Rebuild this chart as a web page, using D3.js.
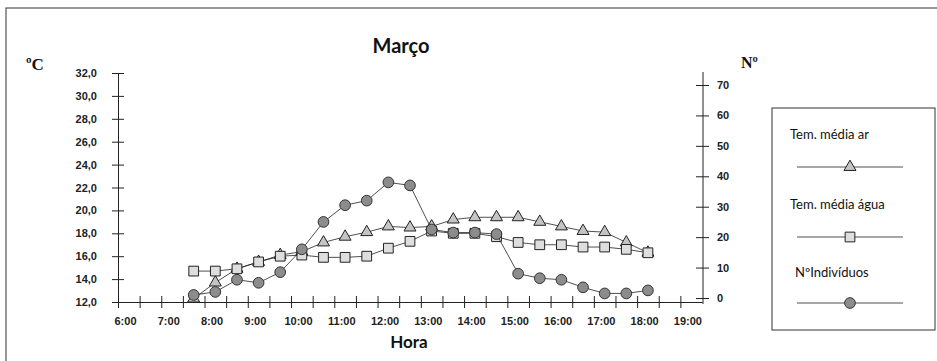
<!DOCTYPE html>
<html>
<head>
<meta charset="utf-8">
<script src="https://cdn.jsdelivr.net/npm/d3@7"></script>
<style>
  body { margin: 0; background: #fff; }
  svg { display: block; }
  .ax text { font-family: "Liberation Sans", Arial, sans-serif; font-size: 11px; font-weight: bold; fill: #222; }
</style>
</head>
<body>
<div id="vis"></div>
<script>
// readings every half hour
const horas = ["7:45", "8:15", "8:45", "9:15", "9:45", "10:15", "10:45", "11:15", "11:45", "12:15", "12:45",
               "13:15", "13:45", "14:15", "14:45", "15:15", "15:45", "16:15", "16:45", "17:15", "17:45", "18:15"];
const tempAr = [12.3, 13.7, 14.9, 15.5, 16.1, 16.4, 17.2, 17.7, 18.1, 18.6, 18.5,
                18.6, 19.2, 19.4, 19.4, 19.4, 19.0, 18.6, 18.2, 18.1, 17.2, 16.3];
const tempAgua = [14.7, 14.7, 14.9, 15.5, 16.0, 16.1, 15.9, 15.9, 16.0, 16.7, 17.3,
                  18.2, 18.0, 18.0, 17.7, 17.2, 17.0, 17.0, 16.8, 16.8, 16.6, 16.3];
const individuos = [1, 2, 6, 5, 8.5, 16, 25, 30.5, 32, 38, 37,
                    22.5, 21.5, 21.5, 21, 8, 6.5, 6, 3.5, 1.5, 1.5, 2.5];
const tempTicks = [12, 14, 16, 18, 20, 22, 24, 26, 28, 30, 32];
const numTicks = [0, 10, 20, 30, 40, 50, 60, 70];
const legendLabels = ["Tem. média ar", "Tem. média água", "NºIndivíduos"];

const toHour = s => { const p = s.split(":"); return +p[0] + (+p[1]) / 60; };

const svg = d3.select("#vis")
    .append("svg")
    .attr("width", 937)
    .attr("height", 361);

// outer frame (only top/left visible in the crop)
svg.append("rect")
    .attr("x", 6).attr("y", 8)
    .attr("width", 960).attr("height", 400)
    .attr("fill", "none").attr("stroke", "#333").attr("stroke-width", 1);

const x = d3.scaleLinear().domain([6, 19.5]).range([118, 702]);
const y = d3.scaleLinear().domain([12, 32]).range([302, 73]);
const y2 = d3.scaleLinear().domain([0, 70]).range([298, 85]);

// left axis
const gl = svg.append("g")
    .attr("class", "ax")
    .attr("transform", "translate(118,0)")
    .call(d3.axisLeft(y).tickValues(tempTicks).tickSize(6).tickSizeOuter(0)
        .tickFormat(d => d.toFixed(1).replace(".", ",")));
gl.select(".domain").attr("stroke", "#222");
gl.selectAll(".tick line").attr("x1", -6).attr("x2", 6).attr("stroke", "#222");
gl.selectAll(".tick text").attr("x", -21);

// right axis
svg.append("line")
    .attr("x1", 703).attr("x2", 703).attr("y1", 72).attr("y2", 304)
    .attr("stroke", "#222");
const gr = svg.append("g")
    .attr("class", "ax")
    .attr("transform", "translate(703,0)")
    .call(d3.axisRight(y2).tickValues(numTicks).tickSize(6).tickSizeOuter(0));
gr.select(".domain").remove();
gr.selectAll(".tick line").attr("x1", -7).attr("x2", 6).attr("stroke", "#222");
gr.selectAll(".tick text").attr("x", 14);

// x axis
const gx = svg.append("g")
    .attr("class", "ax")
    .attr("transform", "translate(0,302)")
    .call(d3.axisBottom(x).tickValues(d3.range(6, 19.5, 0.5)).tickSize(6).tickSizeOuter(0)
        .tickFormat(d => d % 1 === 0 ? d + ":00" : ""));
gx.select(".domain").attr("stroke", "#222");
gx.selectAll(".tick line").attr("y1", -6).attr("y2", 6).attr("stroke", "#222");
gx.selectAll(".tick text").attr("y", 15).attr("dx", 7);

// titles
svg.append("text").attr("x", 401).attr("y", 53).attr("text-anchor", "middle")
    .style("font", "bold 20px Lato, sans-serif").attr("fill", "#111").text("Março");
svg.append("text").attr("x", 409).attr("y", 348).attr("text-anchor", "middle")
    .style("font", "bold 17px Lato, sans-serif").attr("fill", "#111").text("Hora");
svg.append("text").attr("x", 26).attr("y", 70)
    .style("font", "bold 17px 'Liberation Serif', serif").attr("fill", "#111").text("ºC");
svg.append("text").attr("x", 741).attr("y", 68)
    .style("font", "bold 16px 'Liberation Serif', serif").attr("fill", "#111").text("Nº");

// series
const series = [
    { values: tempAr, scale: y, shape: d3.symbolTriangle, size: 62, fill: "#c4c4c4", stroke: "#222" },
    { values: tempAgua, scale: y, shape: d3.symbolSquare, size: 95, fill: "#dedede", stroke: "#222" },
    { values: individuos, scale: y2, shape: d3.symbolCircle, size: 90, fill: "#8c8c8c", stroke: "#333" }
];

series.forEach(s => {
    const pts = horas.map((h, i) => [x(toHour(h)), s.scale(s.values[i])]);
    svg.append("path")
        .attr("d", d3.line()(pts))
        .attr("fill", "none").attr("stroke", "#222").attr("stroke-width", 0.8);
    svg.append("g").selectAll("path")
        .data(pts)
        .enter()
        .append("path")
        .attr("transform", d => `translate(${d[0]},${d[1]})`)
        .attr("d", d3.symbol(s.shape, s.size))
        .attr("fill", s.fill).attr("stroke", s.stroke).attr("stroke-width", 1);
});

// legend
svg.append("rect")
    .attr("x", 772).attr("y", 108).attr("width", 163).attr("height", 222)
    .attr("fill", "#fff").attr("stroke", "#333");
const legY = [139, 209, 277];
const legLineY = [167, 237, 303];
series.forEach((s, i) => {
    svg.append("text").attr("x", i === 2 ? 795 : 790).attr("y", legY[i])
        .attr("font-family", "Lato, sans-serif").attr("font-size", 13)
        .attr("fill", "#111").text(legendLabels[i]);
    svg.append("line")
        .attr("x1", 797).attr("x2", 903).attr("y1", legLineY[i]).attr("y2", legLineY[i])
        .attr("stroke", "#222").attr("stroke-width", 0.8);
    svg.append("path")
        .attr("transform", `translate(850,${legLineY[i]})`)
        .attr("d", d3.symbol(s.shape, s.size))
        .attr("fill", s.fill).attr("stroke", s.stroke);
});
</script>
</body>
</html>
